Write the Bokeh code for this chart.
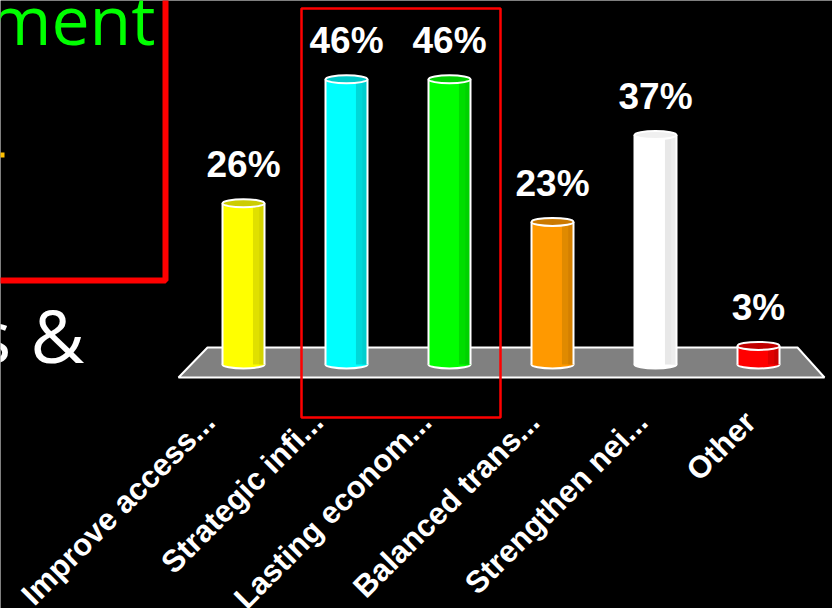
from bokeh.plotting import figure
from bokeh.models import Range1d, ColumnDataSource
from bokeh.core.properties import value
from bokeh.embed import file_html
from bokeh.resources import INLINE
import math

# ---- data ----
categories = ["Improve access...", "Strategic infi...", "Lasting econom...",
              "Balanced trans...", "Strengthen nei...", "Other"]
values = [26, 46, 46, 23, 37, 3]
value_labels = [f"{v}%" for v in values]
bar_colors = ["#FFFF00", "#00FFFF", "#00FF00", "#FF9900", "#FFFFFF", "#FF0000"]
shade_colors = ["#E0E000", "#00D8D8", "#00DD00", "#E08A00", "#E8E8E8", "#E00000"]
top_colors = ["#CCCC00", "#00C8C8", "#00CC00", "#CC7A00", "#F0F0F0", "#C00000"]

W, H = 832, 608
X0_PX, DX_PX = 243.0, 103.0       # pixel position of first category, spacing
BASE_PX, PX_PER_UNIT = 364.0, 6.2  # baseline pixel row, pixels per percent
BASELINE_FIX = 0.4                 # svg text baseline compensation (fraction of font size)


def px_x(px):
    return (px - X0_PX) / DX_PX


def px_y(py):
    return (BASE_PX - py) / PX_PER_UNIT


p = figure(width=W, height=H, output_backend="svg", toolbar_location=None,
           x_range=Range1d(px_x(0), px_x(W)), y_range=Range1d(px_y(H), px_y(0)),
           x_axis_type=None, y_axis_type=None,
           background_fill_color="black", border_fill_color="black",
           min_border=0, min_border_left=0, min_border_right=0,
           min_border_top=0, min_border_bottom=0)
p.grid.visible = False
p.outline_line_color = None


def slide_text(txt, right_px, base_px, size, color):
    p.text(x=[px_x(right_px)], y=[px_y(base_px - BASELINE_FIX * size)], text=[txt],
           text_align="right", text_baseline="alphabetic", text_color=color,
           text_font=value("Open Sans"), text_font_size=f"{size}px")


# ---- slide decorations (top-left) ----
p.quad(left=[px_x(-20)], right=[px_x(165)], bottom=[px_y(280)], top=[px_y(-20)],
       fill_color=None, line_color="#FF0000", line_width=6)
slide_text("ment", 155, 45, 68, "#00FF00")
p.quad(left=[px_x(-2)], right=[px_x(4)], bottom=[px_y(157)], top=[px_y(152)],
       fill_color="#FFC000", line_color=None)
slide_text("s &", 84, 364, 74, "white")

# ---- floor ----
p.patch(x=[px_x(178), px_x(824), px_x(797), px_x(207)],
        y=[px_y(377), px_y(377), px_y(347), px_y(347)],
        fill_color="#808080", line_color="white", line_width=2)

# ---- cylinders ----
n = len(categories)
xs = list(range(n))
hw = 21.0 / DX_PX
cap_h = 8.0 / PX_PER_UNIT
VAL_FS = 37
src = ColumnDataSource(dict(
    x=xs, v=values, zero=[0] * n, c=bar_colors, s=shade_colors, t=top_colors,
    l=[x - hw for x in xs], r=[x + hw for x in xs],
    s1=[x + hw * 0.45 for x in xs], s2=[x + hw * 0.75 for x in xs],
    lab_y=[v + (24.0 + BASELINE_FIX * VAL_FS) / PX_PER_UNIT for v in values],
    txt=value_labels,
))
# bottom cap
p.ellipse(x="x", y="zero", width=2 * hw, height=cap_h, source=src,
          fill_color="c", line_color="white", line_width=2)
# body
p.quad(left="l", right="r", bottom="zero", top="v", source=src,
       fill_color="c", line_color=None)
p.quad(left="s1", right="r", bottom="zero", top="v", source=src,
       fill_color="s", line_color=None)
p.quad(left="s2", right="r", bottom="zero", top="v", source=src,
       fill_color="t", line_color=None, fill_alpha=0.6)
# side outlines
p.segment(x0="l", y0="zero", x1="l", y1="v", source=src, line_color="white", line_width=2)
p.segment(x0="r", y0="zero", x1="r", y1="v", source=src, line_color="white", line_width=2)
# top cap
p.ellipse(x="x", y="v", width=2 * hw, height=cap_h, source=src,
          fill_color="t", line_color="white", line_width=2)

# value labels
p.text(x="x", y="lab_y", text="txt", source=src, text_align="center",
       text_baseline="alphabetic", text_color="white",
       text_font=value("Liberation Sans"), text_font_style="bold",
       text_font_size=f"{VAL_FS}px")

# category labels (rotated 45deg, laid along the front edge of the floor,
# which is wider than the bar row because of the perspective)
CAT_FS = 31
PERSPECTIVE = 1.05
front_px = [217.8 + (DX_PX * x) * PERSPECTIVE for x in xs]
shift = BASELINE_FIX * CAT_FS * math.cos(math.pi / 4)
cat_x = [px_x(fx - shift) for fx in front_px]
cat_y = [px_y(425 - shift)] * n
p.text(x=cat_x, y=cat_y, text=categories, angle=math.pi / 4,
       text_align="right", text_baseline="alphabetic", text_color="white",
       text_font=value("Liberation Sans"), text_font_style="bold",
       text_font_size=f"{CAT_FS}px")

# ---- highlight box ----
p.quad(left=[px_x(301)], right=[px_x(500)], bottom=[px_y(417)], top=[px_y(8)],
       fill_color=None, line_color="#FF0000", line_width=2.5)

open("out.html", "w").write(file_html(p, INLINE))
